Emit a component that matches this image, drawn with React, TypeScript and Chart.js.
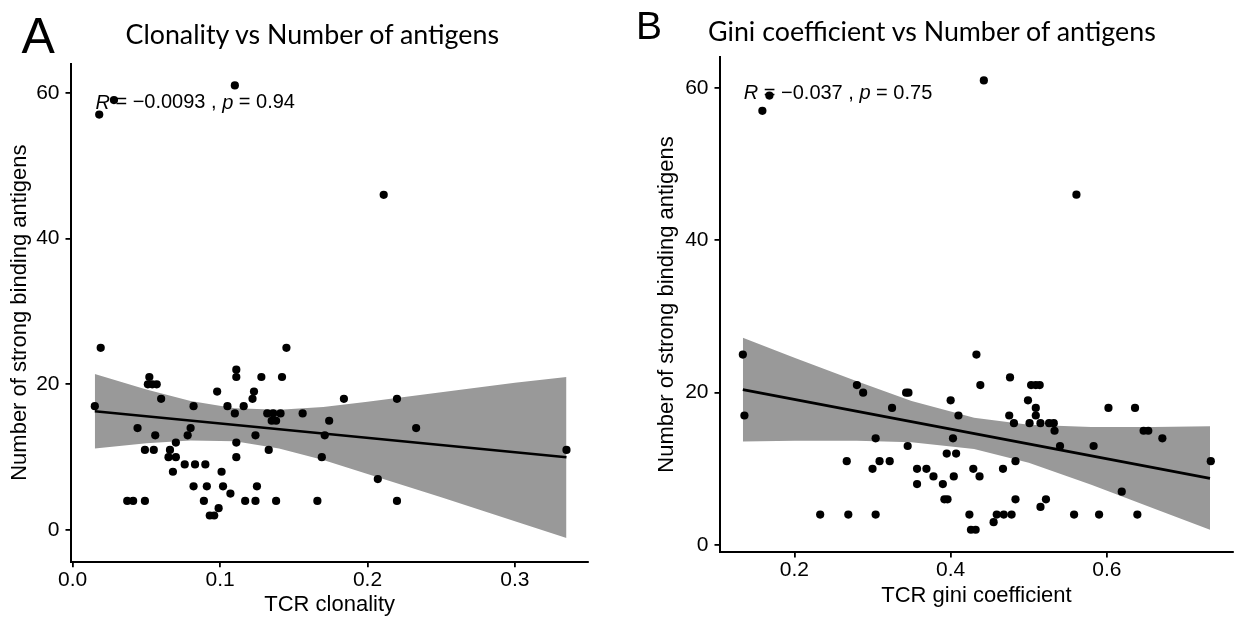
import React, { useEffect, useRef } from "react";
import { Chart, registerables } from "chart.js";

Chart.register(...registerables);

const FONT = "'Liberation Sans', Arial, sans-serif";
const TITLE_FONT = "Lato, 'Open Sans', sans-serif";

// ---------- Panel A: TCR clonality ----------
const clonality = [
  0.015, 0.018, 0.028, 0.019, 0.110, 0.211, 0.145, 0.335, 0.052, 0.051, 0.054, 0.057, 0.060,
  0.044, 0.056, 0.049, 0.055, 0.066, 0.070, 0.065, 0.070, 0.068, 0.076, 0.083, 0.090, 0.082,
  0.080, 0.078, 0.098, 0.105, 0.101, 0.082, 0.091, 0.102, 0.089, 0.099, 0.093, 0.096, 0.037,
  0.041, 0.049, 0.111, 0.111, 0.128, 0.142, 0.123, 0.122, 0.116, 0.110, 0.132, 0.136, 0.141,
  0.135, 0.138, 0.156, 0.174, 0.184, 0.220, 0.171, 0.124, 0.111, 0.133, 0.111, 0.169, 0.207,
  0.125, 0.107, 0.117, 0.124, 0.138, 0.166, 0.220, 0.233,
];
const antigensA = [
  17, 57, 59, 25, 61, 46, 25, 11, 21, 20, 20, 20, 18,
  14, 13, 11, 11, 11, 12, 10, 10, 8, 9, 9, 9, 17,
  14, 13, 19, 17, 8, 6, 6, 6, 4, 3, 2, 2, 4,
  4, 4, 22, 21, 21, 21, 19, 18, 17, 16, 16, 16, 16,
  15, 15, 16, 15, 18, 18, 13, 13, 12, 11, 10, 10, 7,
  6, 5, 4, 4, 4, 4, 4, 14,
];
const fitAX = [0.015, 0.335];
const fitAY = [16.3, 10.0];
const bandAX = [0.015, 0.05, 0.08, 0.11, 0.14, 0.17, 0.2, 0.25, 0.3, 0.335];
const bandAUpper = [21.4, 19.3, 17.7, 16.7, 16.5, 16.9, 17.6, 18.9, 20.2, 21.0];
const bandALower = [11.2, 11.9, 12.3, 12.2, 11.2, 9.6, 7.7, 4.5, 1.2, -1.1];
const xTicksA = [0, 0.1, 0.2, 0.3];
const xTickLabelsA = ["0.0", "0.1", "0.2", "0.3"];

// ---------- Panel B: TCR gini coefficient ----------
const gini = [
  0.134, 0.136, 0.159, 0.168, 0.4425, 0.561, 0.733, 0.280, 0.288, 0.304, 0.267, 0.300, 0.309,
  0.233, 0.269, 0.304, 0.325, 0.343, 0.346, 0.345, 0.322, 0.357, 0.369, 0.378, 0.357, 0.390,
  0.404, 0.392, 0.396, 0.400, 0.410, 0.403, 0.395, 0.407, 0.438, 0.433, 0.476, 0.503, 0.509,
  0.514, 0.499, 0.509, 0.475, 0.481, 0.509, 0.501, 0.515, 0.526, 0.532, 0.533, 0.429, 0.437,
  0.467, 0.483, 0.483, 0.522, 0.515, 0.424, 0.459, 0.468, 0.478, 0.455, 0.426, 0.432, 0.540,
  0.602, 0.636, 0.583, 0.647, 0.653, 0.671, 0.619, 0.558, 0.590, 0.639,
];
const antigensB = [
  25, 17, 57, 59, 61, 46, 11, 21, 20, 14, 11, 10, 11,
  4, 4, 4, 18, 20, 20, 13, 11, 10, 10, 9, 8, 8,
  9, 6, 6, 19, 17, 14, 12, 12, 21, 25, 22, 21, 21,
  21, 19, 18, 17, 16, 17, 16, 16, 16, 16, 15, 10, 9,
  10, 11, 6, 6, 5, 4, 4, 4, 4, 3, 2, 2, 13,
  18, 18, 13, 15, 15, 14, 7, 4, 4, 4,
];
const fitBX = [0.134, 0.732];
const fitBY = [20.4, 8.75];
const bandBX = [0.134, 0.2, 0.28, 0.35, 0.43, 0.5, 0.58, 0.66, 0.732];
const bandBUpper = [27.2, 24.6, 21.5, 18.9, 16.7, 15.8, 15.5, 15.5, 15.6];
const bandBLower = [13.6, 13.7, 13.7, 13.5, 12.6, 10.8, 7.9, 4.8, 2.0];
const xTicksB = [0.2, 0.4, 0.6];
const xTickLabelsB = ["0.2", "0.4", "0.6"];

const yTicks = [0, 20, 40, 60];
const yTickLabels = ["0", "20", "40", "60"];

const corTextA = [
  { text: "R", italic: true },
  { text: " = \u22120.0093 , ", italic: false },
  { text: "p", italic: true },
  { text: " = 0.94", italic: false },
];
const corTextB = [
  { text: "R", italic: true },
  { text: " = \u22120.037 , ", italic: false },
  { text: "p", italic: true },
  { text: " = 0.75", italic: false },
];

type Part = { text: string; italic: boolean };

type Panel = {
  xs: number[];
  ys: number[];
  fitX: number[];
  fitY: number[];
  bandX: number[];
  bandUpper: number[];
  bandLower: number[];
  xTicks: number[];
  xTickLabels: string[];
  xTitle: string;
  xMin: number;
  xMax: number;
  yMin: number;
  yMax: number;
  yAxisWidth: number;
  yTitlePad: number;
  xAxisHeight: number;
  xTitlePad: number;
  padding: { left: number; right: number; top: number; bottom: number };
  cor: Part[];
  corAt: { x: number; y: number };
};

function corPlugin(parts: Part[], at: { x: number; y: number }) {
  return {
    id: "corLabel",
    afterDatasetsDraw(chart: any) {
      const ctx = chart.ctx;
      const px = chart.scales.x.getPixelForValue(at.x);
      const py = chart.scales.y.getPixelForValue(at.y);
      ctx.save();
      ctx.fillStyle = "#000";
      ctx.textBaseline = "middle";
      ctx.textAlign = "left";
      let x = px;
      for (const part of parts) {
        ctx.font = `${part.italic ? "italic " : ""}20px ${FONT}`;
        ctx.fillText(part.text, x, py);
        x += ctx.measureText(part.text).width;
      }
      ctx.restore();
    },
  };
}

function buildConfig(p: Panel): any {
  const tickFont = { family: FONT, size: 21 };
  const titleFont = { family: FONT, size: 22 };
  return {
    type: "scatter",
    data: {
      datasets: [
        {
          type: "scatter",
          data: p.xs.map((x, i) => ({ x, y: p.ys[i] })),
          pointRadius: 4.1,
          pointHoverRadius: 4.1,
          pointBackgroundColor: "#000",
          pointBorderColor: "#000",
          pointBorderWidth: 0,
        },
        {
          type: "line",
          data: p.fitX.map((x, i) => ({ x, y: p.fitY[i] })),
          borderColor: "#000",
          borderWidth: 2.6,
          pointRadius: 0,
          fill: false,
        },
        {
          type: "line",
          data: p.bandX.map((x, i) => ({ x, y: p.bandUpper[i] })),
          borderColor: "rgba(0,0,0,0)",
          borderWidth: 0,
          pointRadius: 0,
          fill: false,
        },
        {
          type: "line",
          data: p.bandX.map((x, i) => ({ x, y: p.bandLower[i] })),
          borderColor: "rgba(0,0,0,0)",
          borderWidth: 0,
          pointRadius: 0,
          backgroundColor: "#999999",
          fill: "-1",
        },
      ],
    },
    options: {
      responsive: false,
      animation: false,
      events: [],
      devicePixelRatio: 1,
      layout: { padding: p.padding },
      plugins: {
        legend: { display: false },
        tooltip: { enabled: false },
        title: { display: false },
      },
      scales: {
        x: {
          type: "linear",
          min: p.xMin,
          max: p.xMax,
          afterBuildTicks: (s: any) => {
            s.ticks = p.xTicks.map((v) => ({ value: v }));
          },
          afterFit: (s: any) => {
            s.height = p.xAxisHeight;
          },
          ticks: {
            callback: (_v: any, i: number) => p.xTickLabels[i],
            font: tickFont,
            color: "#000",
            padding: 0,
            maxRotation: 0,
            autoSkip: false,
          },
          grid: {
            display: true,
            drawOnChartArea: false,
            drawTicks: true,
            tickLength: 5.5,
            color: "#000",
            lineWidth: 1.8,
          },
          border: { display: true, color: "#000", width: 2 },
          title: {
            display: true,
            text: p.xTitle,
            font: titleFont,
            color: "#000",
            padding: { top: 0, bottom: p.xTitlePad },
          },
        },
        y: {
          type: "linear",
          min: p.yMin,
          max: p.yMax,
          afterBuildTicks: (s: any) => {
            s.ticks = yTicks.map((v) => ({ value: v }));
          },
          afterFit: (s: any) => {
            s.width = p.yAxisWidth;
          },
          ticks: {
            callback: (_v: any, i: number) => yTickLabels[i],
            font: tickFont,
            color: "#000",
            padding: 6,
            autoSkip: false,
          },
          grid: {
            display: true,
            drawOnChartArea: false,
            drawTicks: true,
            tickLength: 5.5,
            color: "#000",
            lineWidth: 1.8,
          },
          border: { display: true, color: "#000", width: 2 },
          title: {
            display: true,
            text: "Number of strong binding antigens",
            font: titleFont,
            color: "#000",
            padding: { top: p.yTitlePad, bottom: 0 },
          },
        },
      },
    },
    plugins: [corPlugin(p.cor, p.corAt)],
  };
}

const panelA: Panel = {
  xs: clonality,
  ys: antigensA,
  fitX: fitAX,
  fitY: fitAY,
  bandX: bandAX,
  bandUpper: bandAUpper,
  bandLower: bandALower,
  xTicks: xTicksA,
  xTickLabels: xTickLabelsA,
  xTitle: "TCR clonality",
  xMin: -0.00115,
  xMax: 0.3498,
  yMin: -4.34,
  yMax: 64.0,
  yAxisWidth: 71,
  yTitlePad: 6.8,
  xAxisHeight: 56.3,
  xTitlePad: 0,
  padding: { left: 0, right: 29.7, top: 63.6, bottom: 0 },
  cor: corTextA,
  corAt: { x: 0.0154, y: 58.6 },
};

const panelB: Panel = {
  xs: gini,
  ys: antigensB,
  fitX: fitBX,
  fitY: fitBY,
  bandX: bandBX,
  bandUpper: bandBUpper,
  bandLower: bandBLower,
  xTicks: xTicksB,
  xTickLabels: xTickLabelsB,
  xTitle: "TCR gini coefficient",
  xMin: 0.10476,
  xMax: 0.7613,
  yMin: -0.92,
  yMax: 64.07,
  yAxisWidth: 102,
  yTitlePad: 35.8,
  xAxisHeight: 66,
  xTitlePad: 9,
  padding: { left: 0, right: 0, top: 57, bottom: 0 },
  cor: corTextB,
  corAt: { x: 0.1352, y: 59.3 },
};

function ChartCanvas({ panel, left, width }: { panel: Panel; left: number; width: number }) {
  const ref = useRef<HTMLCanvasElement | null>(null);
  useEffect(() => {
    if (!ref.current) return;
    const chart = new Chart(ref.current, buildConfig(panel));
    return () => chart.destroy();
  }, [panel]);
  return (
    <canvas
      ref={ref}
      width={width}
      height={618}
      style={{ position: "absolute", left, top: 0, width, height: 618 }}
    />
  );
}

export default function App() {
  useEffect(() => {
    document.body.style.margin = "0";
  }, []);
  const letter = (size: number): React.CSSProperties => ({
    position: "absolute",
    fontFamily: FONT,
    fontSize: size,
    lineHeight: `${size}px`,
    color: "#000",
    whiteSpace: "nowrap",
  });
  const title: React.CSSProperties = {
    position: "absolute",
    fontFamily: TITLE_FONT,
    fontSize: 26.8,
    lineHeight: "26.8px",
    color: "#000",
    whiteSpace: "nowrap",
  };
  return (
    <div
      style={{
        position: "fixed",
        left: 0,
        top: 0,
        width: 1237,
        height: 618,
        background: "#fff",
        overflow: "hidden",
      }}
    >
      <ChartCanvas panel={panelA} left={0} width={618} />
      <ChartCanvas panel={panelB} left={618} width={619} />
      <div style={{ ...letter(50), left: 21.5, top: 10.7 }}>A</div>
      <div style={{ ...title, left: 125.5, top: 20.8 }}>Clonality vs Number of antigens</div>
      <div style={{ ...letter(39), left: 636, top: 6.4 }}>B</div>
      <div style={{ ...title, left: 708, top: 17.6 }}>Gini coefficient vs Number of antigens</div>
    </div>
  );
}
